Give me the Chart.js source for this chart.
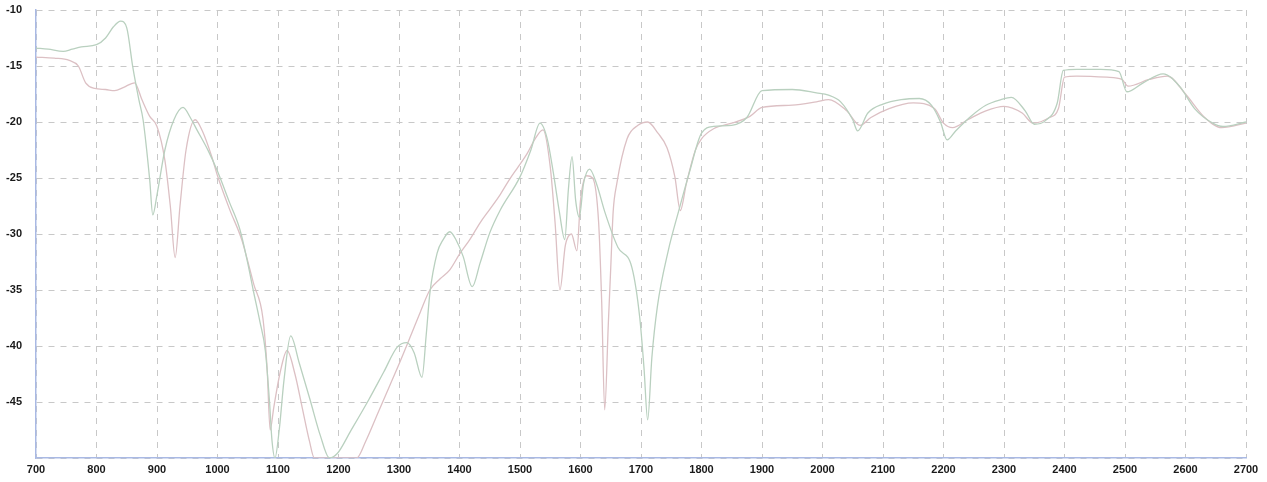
<!DOCTYPE html>
<html>
<head>
<meta charset="utf-8">
<script src="https://cdn.jsdelivr.net/npm/chart.js@4.4.1/dist/chart.umd.min.js"></script>
<style>
  html, body { margin: 0; padding: 0; background: #fff; }
  #wrap { position: relative; width: 1267px; height: 482px; }
</style>
</head>
<body>
<div id="wrap"><canvas id="spectrumChart"></canvas></div>
<script>
// x = wavenumber, y = signal
const wavenumA = [700, 720, 745, 760, 775, 800, 815, 828, 840, 850, 860, 870, 877, 888, 893, 900, 913, 928, 943, 955,
  966, 985, 1000, 1020, 1037, 1050, 1059, 1070, 1079, 1086, 1090, 1095, 1102, 1110, 1121, 1135, 1153, 1170, 1185, 1198,
  1220, 1250, 1275, 1297, 1313, 1325, 1338, 1345, 1351, 1363, 1373, 1384, 1395, 1406, 1421, 1434, 1450, 1467, 1500, 1518,
  1533, 1545, 1555, 1565, 1574, 1580, 1586, 1592, 1598, 1605, 1615, 1627, 1640, 1662, 1685, 1698, 1705, 1711, 1718, 1727,
  1745, 1762, 1780, 1800, 1820, 1850, 1875, 1900, 1950, 1990, 2010, 2030, 2050, 2058, 2075, 2100, 2130, 2160, 2180, 2195,
  2206, 2220, 2245, 2270, 2295, 2312, 2335, 2350, 2368, 2388, 2398, 2420, 2460, 2490, 2503, 2530, 2563, 2590, 2615, 2645,
  2662, 2700];
const signalA = [-13.4, -13.5, -13.7, -13.5, -13.3, -13.1, -12.5, -11.5, -11.0, -11.6, -15.1, -18.0, -19.8, -25.2, -28.3, -26.5, -22.5, -19.8, -18.7, -19.6,
  -20.7, -22.6, -24.4, -27.2, -29.6, -32.6, -35.0, -37.8, -40.4, -45.0, -48.4, -50.0, -47.5, -43.0, -39.1, -41.5, -44.8, -48.0, -50.0, -49.6,
  -47.6, -44.8, -42.3, -40.1, -39.7, -40.6, -42.8, -39.0, -35.3, -31.7, -30.5, -29.8, -30.6, -32.0, -34.7, -32.6, -29.9, -27.9, -24.9, -22.5,
  -20.1, -21.5, -24.5, -28.0, -30.5, -26.0, -23.1, -27.0, -28.5, -25.5, -24.2, -25.6, -28.0, -31.2, -33.0, -37.5, -42.0, -46.6, -41.0, -36.5,
  -31.5, -28.0, -24.5, -21.0, -20.4, -20.3, -19.6, -17.2, -17.1, -17.4, -17.6, -18.2, -19.8, -20.8, -19.2, -18.4, -18.0, -17.9, -18.5, -20.0,
  -21.6, -20.8, -19.5, -18.5, -18.0, -17.8, -19.0, -20.2, -19.9, -18.3, -15.4, -15.3, -15.3, -15.5, -17.3, -16.5, -15.7, -16.8, -18.8, -20.1,
  -20.4, -20.0];

const wavenumB = [700, 730, 755, 770, 782, 797, 815, 830, 845, 863, 875, 888, 900, 913, 922, 930, 938, 948, 963, 975,
  990, 1000, 1020, 1040, 1060, 1075, 1082, 1087, 1093, 1103, 1115, 1128, 1140, 1152, 1160, 1230, 1245, 1265, 1285, 1301,
  1320, 1335, 1351, 1368, 1384, 1400, 1417, 1434, 1450, 1467, 1483, 1497, 1512, 1525, 1538, 1550, 1558, 1566, 1575, 1585,
  1594, 1600, 1610, 1620, 1630, 1635, 1640, 1646, 1650, 1654, 1660, 1677, 1695, 1711, 1728, 1743, 1756, 1765, 1775, 1790,
  1800, 1820, 1850, 1880, 1900, 1950, 1990, 2010, 2040, 2062, 2080, 2110, 2150, 2185, 2200, 2215, 2240, 2270, 2300, 2330,
  2348, 2375, 2390, 2400, 2420, 2470, 2495, 2505, 2540, 2570, 2600, 2630, 2660, 2700];
const signalB = [-14.2, -14.3, -14.5, -15.0, -16.5, -17.0, -17.1, -17.2, -16.9, -16.5, -18.0, -19.5, -20.4, -23.4, -27.5, -32.1, -27.5, -22.5, -19.8, -20.8,
  -23.0, -24.8, -27.8, -30.5, -34.5, -37.5, -42.0, -47.5, -45.5, -42.5, -40.4, -42.5, -45.5, -48.5, -50.0, -50.0, -48.5, -46.0, -43.5, -41.5,
  -39.0, -37.0, -35.0, -34.0, -33.2, -31.8, -30.5, -29.0, -27.8, -26.5, -25.1, -24.0, -22.8, -21.5, -20.7, -24.0, -29.0, -35.0, -31.0, -30.0,
  -31.5, -27.0, -24.8, -25.0, -29.0, -36.0, -45.7, -38.0, -33.0, -28.0, -25.5, -21.5, -20.3, -20.0, -21.0, -22.3, -24.9, -27.9, -25.5, -22.5,
  -21.5, -20.6, -20.1, -19.5, -18.7, -18.5, -18.2, -18.0, -19.0, -20.3, -19.6, -18.8, -18.3, -18.8, -20.1, -20.5, -19.8, -19.0, -18.6, -19.2,
  -20.1, -19.6, -18.8, -16.0, -15.9, -16.0, -16.2, -16.8, -16.2, -15.9, -17.5, -19.5, -20.5, -20.1];

const xTicksMin = 700, xTicksMax = 2700, xStep = 100;
const yTicksMin = -50, yTicksMax = -10, yStep = 5;

function toPoints(xs, ys) {
  return xs.map((x, i) => ({ x: x, y: ys[i] }));
}

var ctx = document.getElementById("spectrumChart").getContext("2d");
var spectrumChart = new Chart(ctx, {
  type: "line",
  data: {
    datasets: [
      {
        data: toPoints(wavenumA, signalA),
        borderColor: "#b9d0bf",
        borderWidth: 1.3,
        pointRadius: 0,
        cubicInterpolationMode: "monotone",
        fill: false,
      },
      {
        data: toPoints(wavenumB, signalB),
        borderColor: "#dcc0c4",
        borderWidth: 1.3,
        pointRadius: 0,
        cubicInterpolationMode: "monotone",
        fill: false,
      },
    ],
  },
  options: {
    responsive: true,
    maintainAspectRatio: false,
    animation: false,
    layout: { padding: { top: 10, right: 21, left: 0, bottom: 0 } },
    plugins: {
      legend: { display: false },
      tooltip: { enabled: false },
    },
    scales: {
      x: {
        type: "linear",
        min: xTicksMin,
        max: xTicksMax,
        afterFit: (scale) => {
          scale.height = 24;
          scale.paddingLeft = 0;
          scale.paddingRight = 0;
        },
        ticks: {
          stepSize: xStep,
          padding: 5,
          color: "#1a1a1a",
          font: { family: "Liberation Sans", size: 11, weight: "bold" },
          callback: (v) => String(v),
        },
        grid: { color: "#c8c8c8", lineWidth: 1, drawTicks: false },
        border: { color: "#a9b9e4", width: 1.5, dash: [6, 6] },
      },
      y: {
        min: yTicksMin,
        max: yTicksMax,
        afterFit: (scale) => {
          scale.width = 36;
          scale.paddingTop = 0;
          scale.paddingBottom = 0;
        },
        ticks: {
          stepSize: yStep,
          padding: 14,
          color: "#1a1a1a",
          font: { family: "Liberation Sans", size: 11, weight: "bold" },
          callback: (v) => (v === yTicksMin ? "" : String(v)),
        },
        grid: { color: "#c8c8c8", lineWidth: 1, drawTicks: false },
        border: { color: "#a9b9e4", width: 1.5, dash: [6, 6] },
      },
    },
  },
});
</script>
</body>
</html>
